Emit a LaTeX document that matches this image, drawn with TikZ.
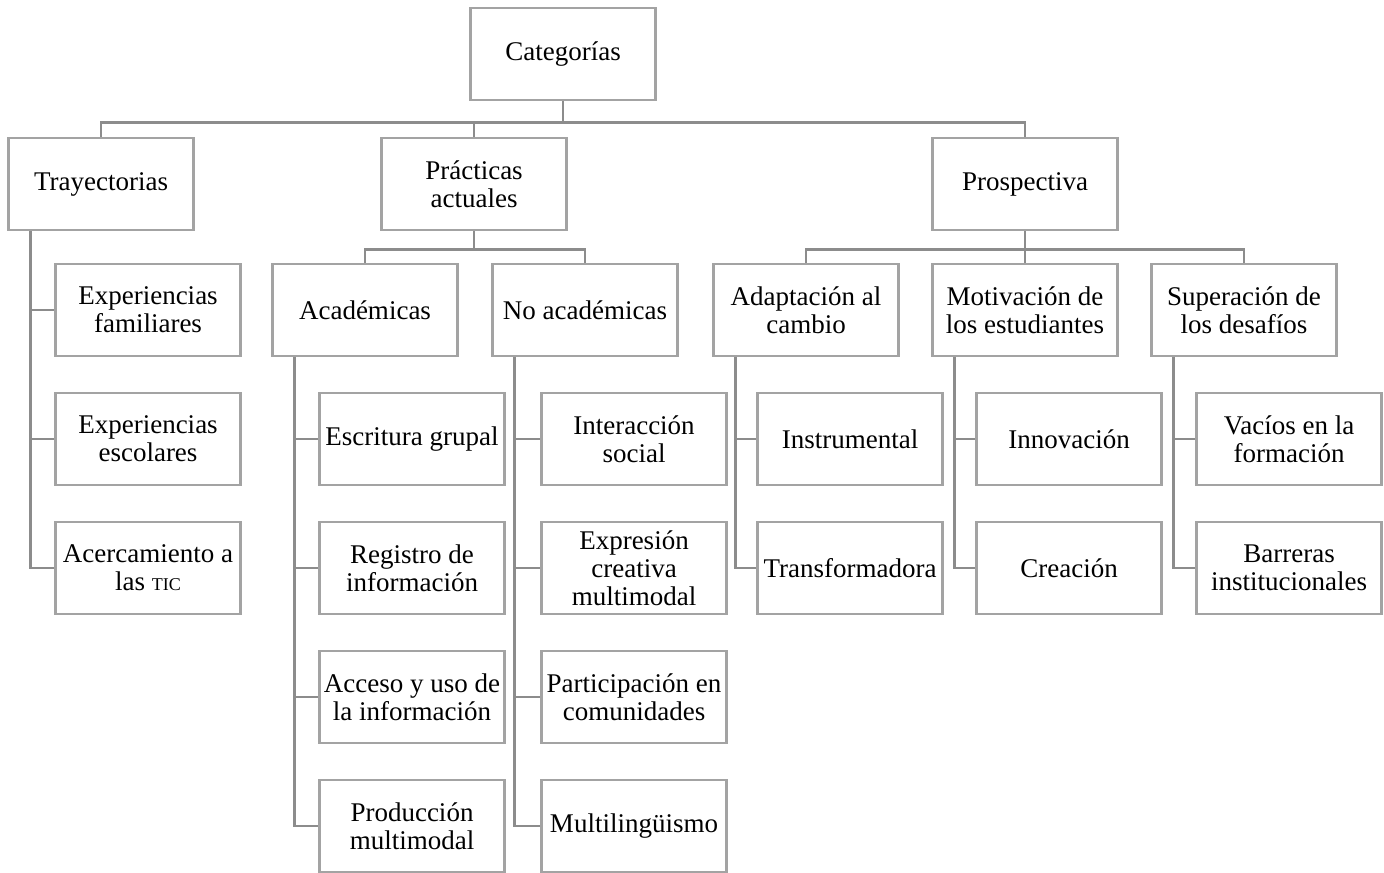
\documentclass[tikz,border=0pt]{standalone}
\usepackage{fontspec}
\setmainfont{Liberation Serif}
\usepackage{tikz}
\usetikzlibrary{arrows}

\definecolor{boxgray}{HTML}{A3A3A3}
\definecolor{linegray}{HTML}{8C8C8C}

\begin{document}
\begin{tikzpicture}[
            x = 0.5pt, y = -0.5pt, % one unit = one pixel of the figure
            node distance = 64.5pt, % distance between rows
            font = \fontsize{13.5}{14}\selectfont
        ]

        \tikzstyle{caja}=[
            draw = boxgray,
            line width = 1.3pt,
            fill = white,
            minimum width = 92.5pt,
            minimum height = 46pt,
            inner sep = 1pt,
            align = center
        ]
        \tikzstyle{linea}=[
            draw = linegray,
            line width = 1.3pt
        ]

        \useasboundingbox (0,0) rectangle (1384,872);

	\node[caja] (cat) at (563,54) {Categorías};
	\node[caja] (tray) at (101,184) {Trayectorias};
	\node[caja] (prac) at (474,184) {Prácticas\\actuales};
	\node[caja] (prosp) at (1025,184) {Prospectiva};

	\node[caja] (acad) at (365,310) {Académicas};
	\node[caja] (noac) at (585,310) {No académicas};
	\node[caja] (adap) at (806,310) {Adaptación al\\cambio};
	\node[caja] (moti) at (1025,310) {Motivación de\\los estudiantes};
	\node[caja] (supe) at (1244,310) {Superación de\\los desafíos};

	\node[caja] (tr1) at (148,310) {Experiencias\\familiares};
	\node[caja] (tr2) [below of=tr1] {Experiencias\\escolares};
	\node[caja] (tr3) [below of=tr2] {Acercamiento a\\las {\small TIC}};

	\node[caja] (ac1) at (412,439) {Escritura grupal};
	\node[caja] (ac2) [below of=ac1] {Registro de\\información};
	\node[caja] (ac3) [below of=ac2] {Acceso y uso de\\la información};
	\node[caja] (ac4) [below of=ac3] {Producción\\multimodal};

	\node[caja] (na1) at (634,439) {Interacción\\social};
	\node[caja] (na2) [below of=na1] {Expresión\\creativa\\multimodal};
	\node[caja] (na3) [below of=na2] {Participación en\\comunidades};
	\node[caja] (na4) [below of=na3] {Multilingüismo};

	\node[caja] (ad1) at (850,439) {Instrumental};
	\node[caja] (ad2) [below of=ad1] {Transformadora};

	\node[caja] (mo1) at (1069,439) {Innovación};
	\node[caja] (mo2) [below of=mo1] {Creación};

	\node[caja] (su1) at (1289,439) {Vacíos en la\\formación};
	\node[caja] (su2) [below of=su1] {Barreras\\institucionales};

	\draw[linea] (cat.south) -- ++(0,-10.5pt) -| (tray.north);
	\draw[linea] (cat.south) -- ++(0,-10.5pt) -| (prac.north);
	\draw[linea] (cat.south) -- ++(0,-10.5pt) -| (prosp.north);

	\draw[linea] (prac.south) -- ++(0,-9pt) -| (acad.north);
	\draw[linea] (prac.south) -- ++(0,-9pt) -| (noac.north);
	\draw[linea] (prosp.south) -- ++(0,-9pt) -| (adap.north);
	\draw[linea] (prosp.south) -- ++(0,-9pt) -| (moti.north);
	\draw[linea] (prosp.south) -- ++(0,-9pt) -| (supe.north);

	\draw[linea] ([xshift=11.5pt]tray.south west) |- (tr1.west);
	\draw[linea] ([xshift=11.5pt]tray.south west) |- (tr2.west);
	\draw[linea] ([xshift=11.5pt]tray.south west) |- (tr3.west);

	\draw[linea] ([xshift=11.5pt]acad.south west) |- (ac1.west);
	\draw[linea] ([xshift=11.5pt]acad.south west) |- (ac2.west);
	\draw[linea] ([xshift=11.5pt]acad.south west) |- (ac3.west);
	\draw[linea] ([xshift=11.5pt]acad.south west) |- (ac4.west);

	\draw[linea] ([xshift=11.5pt]noac.south west) |- (na1.west);
	\draw[linea] ([xshift=11.5pt]noac.south west) |- (na2.west);
	\draw[linea] ([xshift=11.5pt]noac.south west) |- (na3.west);
	\draw[linea] ([xshift=11.5pt]noac.south west) |- (na4.west);

	\draw[linea] ([xshift=11.5pt]adap.south west) |- (ad1.west);
	\draw[linea] ([xshift=11.5pt]adap.south west) |- (ad2.west);
	\draw[linea] ([xshift=11.5pt]moti.south west) |- (mo1.west);
	\draw[linea] ([xshift=11.5pt]moti.south west) |- (mo2.west);
	\draw[linea] ([xshift=11.5pt]supe.south west) |- (su1.west);
	\draw[linea] ([xshift=11.5pt]supe.south west) |- (su2.west);

    \end{tikzpicture}
\end{document}
